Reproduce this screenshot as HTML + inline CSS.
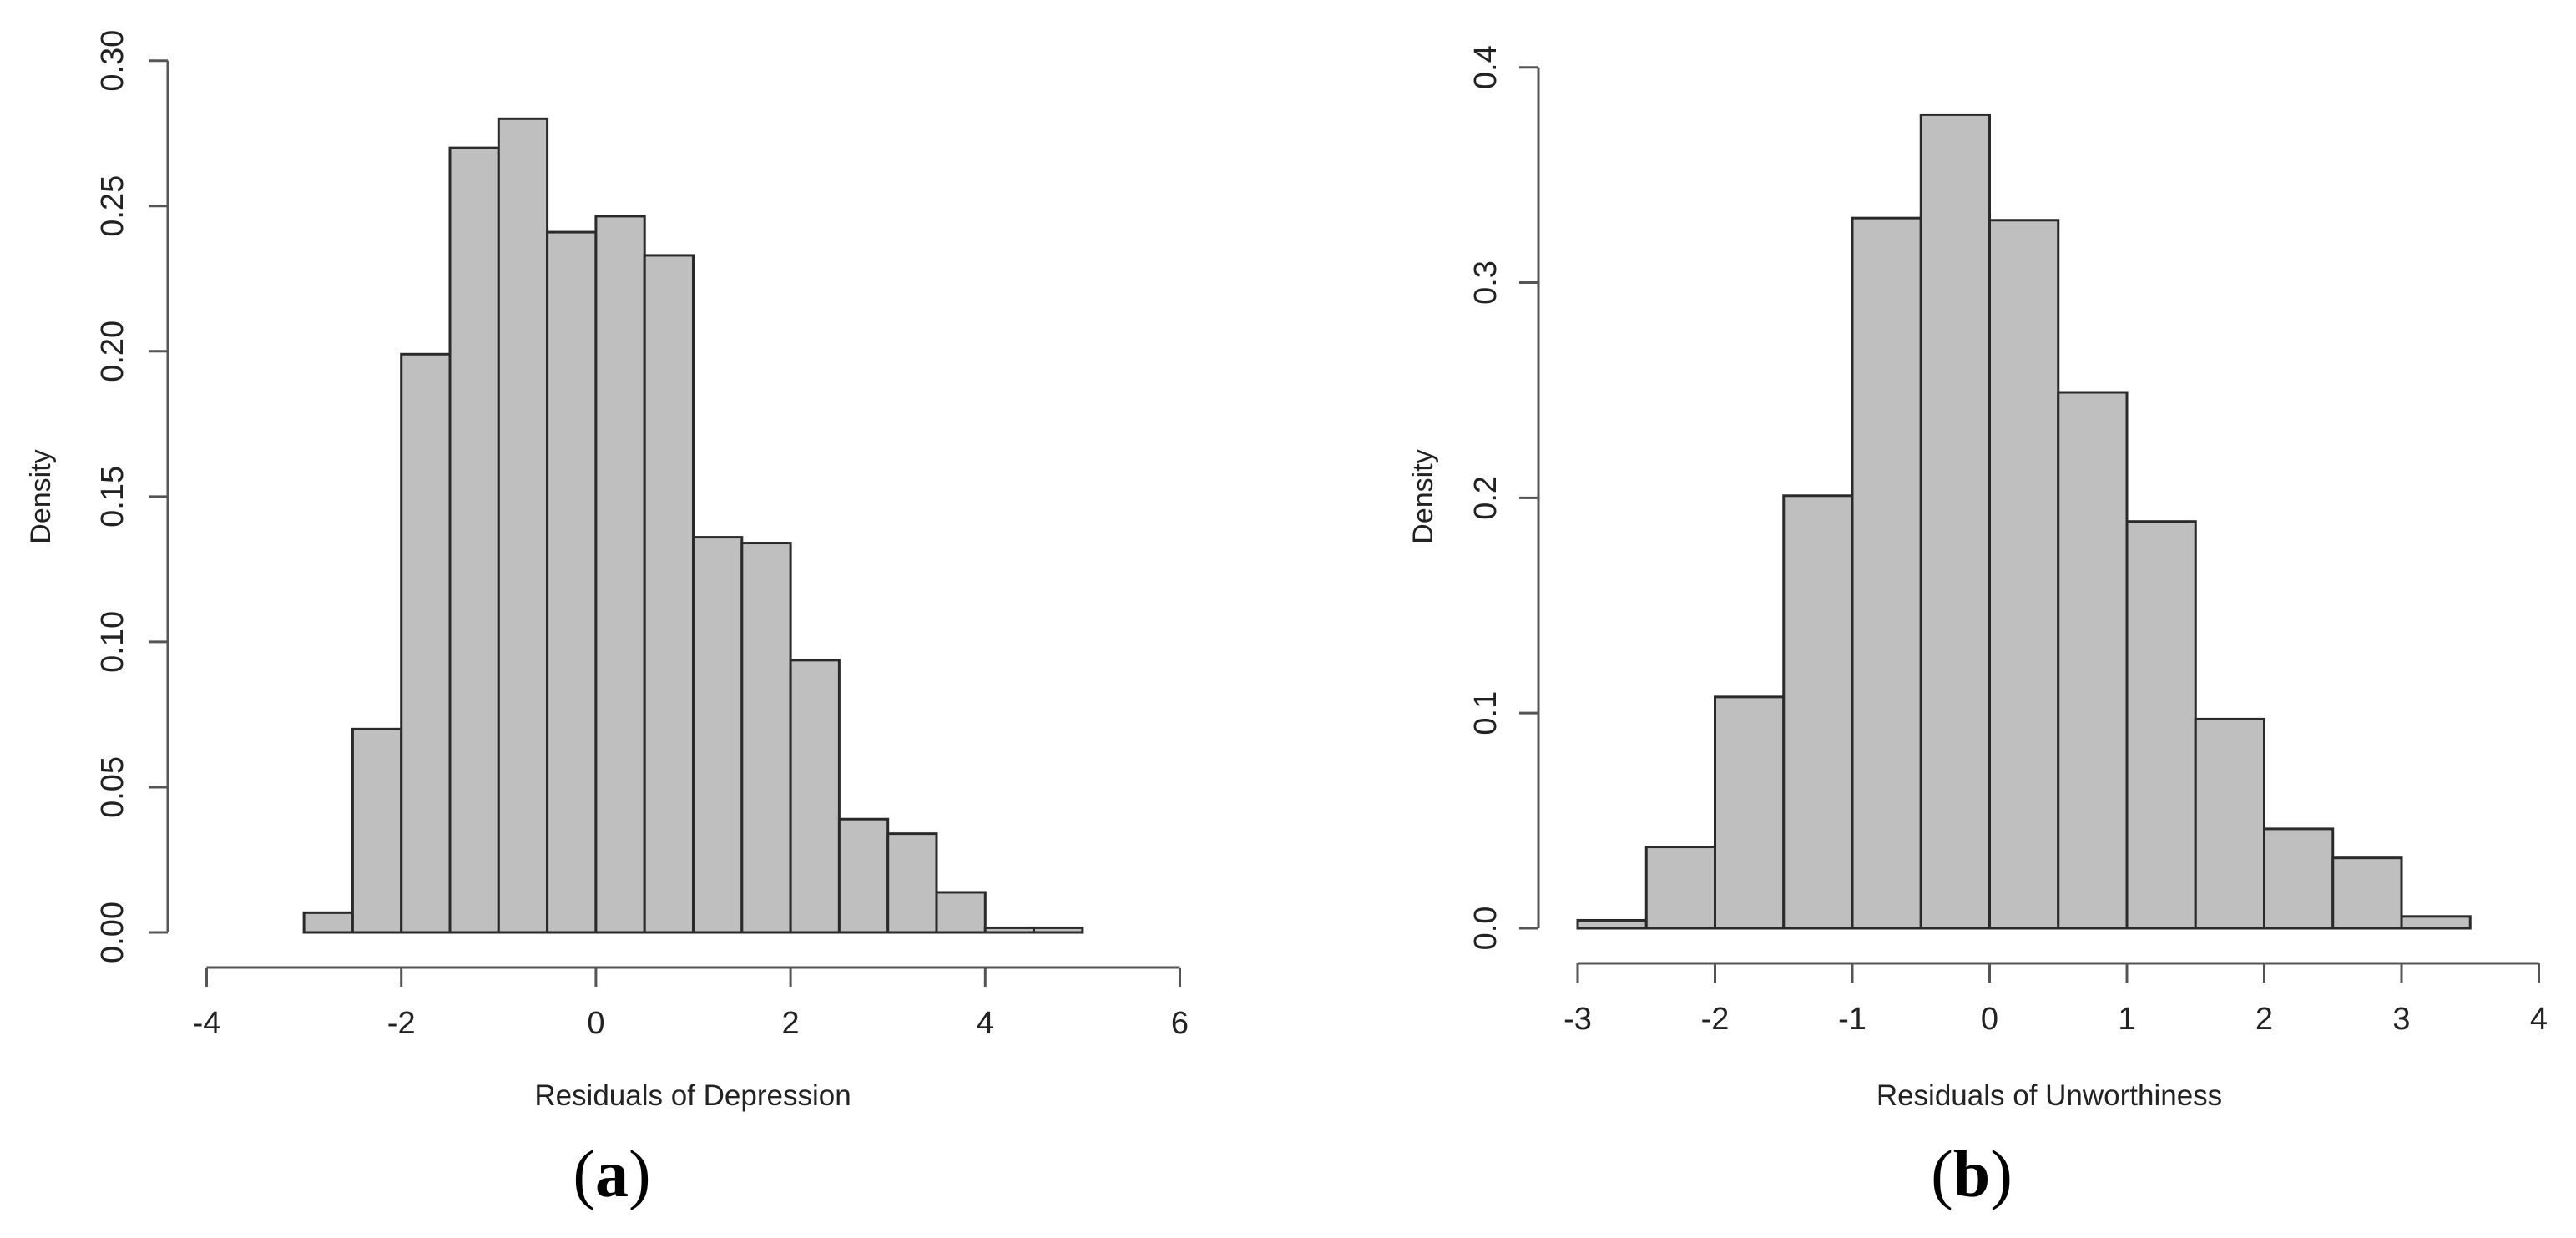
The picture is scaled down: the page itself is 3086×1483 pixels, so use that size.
<!DOCTYPE html>
<html><head><meta charset="utf-8"><style>
html,body{margin:0;padding:0;background:#fff;}
svg{display:block;}
text{font-family:"Liberation Sans",Arial,sans-serif;fill:#222;}
.cap{font-family:"Liberation Serif","Times New Roman",serif;fill:#000;}
</style></head><body>
<svg id="fig" width="3086" height="1483" viewBox="0 0 3086 1483" xmlns="http://www.w3.org/2000/svg"></svg>
<script>
// Panel (a) data
const aBinStarts = [-3,-2.5,-2,-1.5,-1,-0.5,0,0.5,1,1.5,2,2.5,3,3.5,4,4.5];
const aDensity = [0.0068,0.070,0.199,0.270,0.280,0.241,0.2465,0.233,0.136,0.134,0.0937,0.039,0.034,0.0138,0.0016,0.0016];
const aXTicks = [-4,-2,0,2,4,6];
const aYTicks = [0,0.05,0.10,0.15,0.20,0.25,0.30];
const aYTickLabels = ["0.00","0.05","0.10","0.15","0.20","0.25","0.30"];
// Panel (b) data
const bBinStarts = [-3,-2.5,-2,-1.5,-1,-0.5,0,0.5,1,1.5,2,2.5,3];
const bDensity = [0.0037,0.0378,0.1075,0.201,0.330,0.378,0.329,0.249,0.189,0.0972,0.0462,0.0327,0.0055];
const bXTicks = [-3,-2,-1,0,1,2,3,4];
const bYTicks = [0,0.1,0.2,0.3,0.4];
const bYTickLabels = ["0.0","0.1","0.2","0.3","0.4"];
const binWidth = 0.5;

const NS = "http://www.w3.org/2000/svg";
const svg = document.getElementById('fig');
function mk(tag, attrs, parent){
  const e = document.createElementNS(NS, tag);
  for (const k in attrs) e.setAttribute(k, attrs[k]);
  (parent||svg).appendChild(e);
  return e;
}

function panel(cfg){
  const g = mk('g', {});
  
  
  const xs = v => cfg.x0 + (v - cfg.xv0) * cfg.xk;
  const ys = v => cfg.y0 - v * cfg.yk;
  cfg.bins.forEach((b, i) => {
    const r = mk('rect', {x: xs(b), y: ys(cfg.dens[i]), width: xs(b + binWidth) - xs(b), height: ys(0) - ys(cfg.dens[i]), fill: '#bfbfbf', stroke: '#2a2a2a', 'stroke-width': 3}, g);
    
    
  });
  const ya = mk('g', {}, g);
  
  
  const yt = cfg.yTicks;
  mk('line', {x1: cfg.yAxisX, x2: cfg.yAxisX, y1: ys(yt[0]), y2: ys(yt[yt.length-1]), stroke: '#555', 'stroke-width': 3}, ya);
  yt.forEach((t, i) => {
    mk('line', {x1: cfg.yAxisX - 23, x2: cfg.yAxisX, y1: ys(t), y2: ys(t), stroke: '#555', 'stroke-width': 3}, ya);
    const tx = mk('text', {x: 0, y: 0, transform: `translate(${cfg.yLabX},${ys(t)}) rotate(-90)`, 'text-anchor': 'middle', 'font-size': 38}, ya);
    tx.textContent = cfg.yLabels[i];
    
    
  });
  const xa = mk('g', {}, g);
  
  
  const xt = cfg.xTicks;
  mk('line', {x1: xs(xt[0]), x2: xs(xt[xt.length-1]), y1: cfg.xAxisY, y2: cfg.xAxisY, stroke: '#555', 'stroke-width': 3}, xa);
  xt.forEach(t => {
    mk('line', {x1: xs(t), x2: xs(t), y1: cfg.xAxisY, y2: cfg.xAxisY + 23, stroke: '#555', 'stroke-width': 3}, xa);
    const tx = mk('text', {x: xs(t), y: cfg.xAxisY + 79, 'text-anchor': 'middle', 'font-size': 38}, xa);
    tx.textContent = String(t);
    
    
  });
  const yTitle = mk('text', {x: 0, y: 0, transform: `translate(${cfg.densX},595) rotate(-90)`, 'text-anchor': 'middle', 'font-size': 34}, g);
  yTitle.textContent = 'Density';
  
  
  const xTitle = mk('text', {x: cfg.titleX, y: 1324, 'text-anchor': 'middle', 'font-size': 35}, g);
  xTitle.textContent = cfg.title;
  
  
  const cap = mk('text', {x: cfg.capX, y: 1433, 'text-anchor': 'middle', 'font-size': 80, class: 'cap'}, g);
  cap.innerHTML = '(<tspan font-weight="bold">' + cfg.letter + '</tspan>)';
  
  
}

panel({name: 'panel-a-depression-histogram', bins: aBinStarts, dens: aDensity, xTicks: aXTicks, yTicks: aYTicks, yLabels: aYTickLabels,
  x0: 480.7, xv0: -2, xk: 116.6, y0: 1117, yk: 1044.3/0.30, yAxisX: 201, xAxisY: 1159, yLabX: 147, densX: 60,
  title: 'Residuals of Depression', titleX: 830, capX: 733, letter: 'a'});
panel({name: 'panel-b-unworthiness-histogram', bins: bBinStarts, dens: bDensity, xTicks: bXTicks, yTicks: bYTicks, yLabels: bYTickLabels,
  x0: 1890, xv0: -3, xk: 164.5, y0: 1112, yk: 1031.3/0.4, yAxisX: 1843, xAxisY: 1154, yLabX: 1792, densX: 1716,
  title: 'Residuals of Unworthiness', titleX: 2455, capX: 2362, letter: 'b'});
</script>
</body></html>
